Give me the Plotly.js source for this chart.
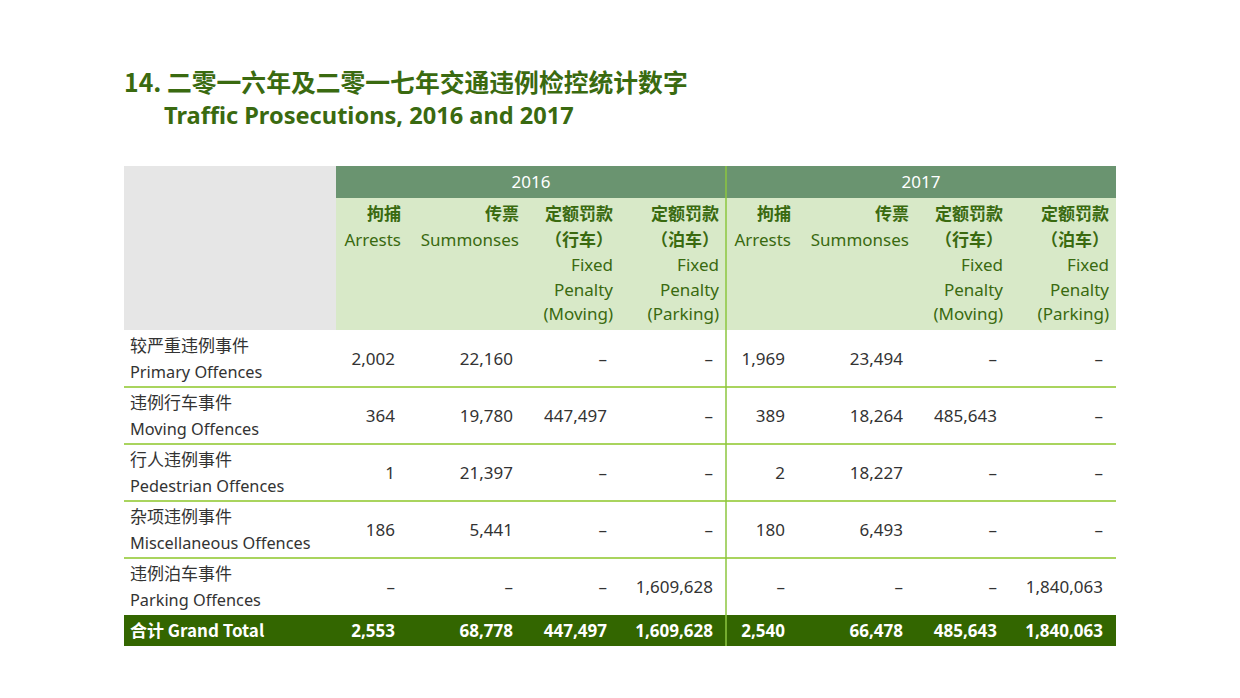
<!DOCTYPE html>
<html>
<head>
<meta charset="utf-8">
<script src="https://cdn.plot.ly/plotly-3.0.1.min.js"></script>
<style>
  html, body { margin: 0; padding: 0; background: #ffffff; }
  #chart { width: 1240px; height: 698px; }
</style>
</head>
<body>
<div id="chart"></div>
<script>
// table content
const titleZh = '14. 二零一六年及二零一七年交通违例检控统计数字';
const titleEn = 'Traffic Prosecutions, 2016 and 2017';
const years = ['2016', '2017'];
const colHeads = [
    ['拘捕', 'Arrests'],
    ['传票', 'Summonses'],
    ['定额罚款', '（行车）', 'Fixed', 'Penalty', '(Moving)'],
    ['定额罚款', '（泊车）', 'Fixed', 'Penalty', '(Parking)']
];
const rowsZh = ['较严重违例事件', '违例行车事件', '行人违例事件', '杂项违例事件', '违例泊车事件'];
const rowsEn = ['Primary Offences', 'Moving Offences', 'Pedestrian Offences', 'Miscellaneous Offences', 'Parking Offences'];

const arrests2016 = [2002, 364, 1, 186, null];
const summonses2016 = [22160, 19780, 21397, 5441, null];
const moving2016 = [null, 447497, null, null, null];
const parking2016 = [null, null, null, null, 1609628];

const arrests2017 = [1969, 389, 2, 180, null];
const summonses2017 = [23494, 18264, 18227, 6493, null];
const moving2017 = [null, 485643, null, null, null];
const parking2017 = [null, null, null, null, 1840063];

const totalLabel = '合计 Grand Total';
const totals2016 = [2553, 68778, 447497, 1609628];
const totals2017 = [2540, 66478, 485643, 1840063];

// layout geometry (pixel space, axes map 1:1 to pixels)
const W = 1240, H = 698;
const tableLeft = 124, tableRight = 1116, labelRight = 336, yearSplit = 726;
const headTop = 166, yearBottom = 198, headBottom = 330;
const rowH = 57, totalTop = 615, totalBottom = 646;
const headRight = [401, 519, 613, 719, 791, 909, 1003, 1109];
const headLineY = [216, 242, 267, 292, 316];

const fontLatin = '"Noto Sans", "Noto Sans CJK SC", sans-serif';
const fontCJK = '"Noto Sans CJK SC", "Noto Sans", sans-serif';
const darkGreen = '#3a6a10';

const fmt = v => v === null ? '–' : v.toLocaleString('en-US');

var traces = [];
function addText(xs, ys, texts, size, color, family, pos) {
    traces.push({
        x: xs, y: ys, text: texts,
        type: 'scatter', mode: 'text',
        textposition: pos || 'middle left',
        textfont: { size: size, color: color, family: family },
        hoverinfo: 'skip', showlegend: false, cliponaxis: false
    });
}

// title
addText([124], [86], ['<b>' + titleZh + '</b>'], 24.8, darkGreen, fontCJK, 'middle right');
addText([164], [118], ['<b>' + titleEn + '</b>'], 23.6, darkGreen, fontLatin, 'middle right');

// year band
addText([(labelRight + yearSplit) / 2, (yearSplit + tableRight) / 2], [184, 184], years, 17, '#ffffff', fontLatin, 'middle center');

// column headers
for (let c = 0; c < 8; c++) {
    const lines = colHeads[c % 4];
    for (let l = 0; l < lines.length; l++) {
        const isZh = /[\u4e00-\u9fff]/.test(lines[l]);
        addText([headRight[c]], [headLineY[l]], [isZh ? '<b>' + lines[l] + '</b>' : lines[l]], 17, darkGreen, isZh ? fontCJK : fontLatin);
    }
}

// row labels
const rowTops = rowsZh.map((_, i) => headBottom + rowH * i);
addText(rowsZh.map(() => 130), rowTops.map(t => t + 18), rowsZh, 17, '#333333', fontCJK, 'middle right');
addText(rowsEn.map(() => 130), rowTops.map(t => t + 44), rowsEn, 16.3, '#333333', fontLatin, 'middle right');

// body values
const cols = [arrests2016, summonses2016, moving2016, parking2016, arrests2017, summonses2017, moving2017, parking2017];
cols.forEach((col, c) => {
    addText(col.map(() => headRight[c] - 6), rowTops.map(t => t + 31), col.map(fmt), 17, '#333333', fontLatin);
});

// grand total
const totals = totals2016.concat(totals2017);
addText([130], [(totalTop + totalBottom) / 2 + 2], ['<b>' + totalLabel + '</b>'], 17, '#ffffff', fontCJK, 'middle right');
addText(totals.map((_, c) => headRight[c] - 6), totals.map(() => (totalTop + totalBottom) / 2 + 2),
    totals.map(v => '<b>' + fmt(v) + '</b>'), 17, '#ffffff', fontLatin);

// backgrounds and rules
var shapes = [
    { type: 'rect', x0: tableLeft, x1: labelRight, y0: headTop, y1: headBottom, fillcolor: '#e6e6e6' },
    { type: 'rect', x0: labelRight, x1: tableRight, y0: headTop, y1: yearBottom, fillcolor: '#6a9470' },
    { type: 'rect', x0: labelRight, x1: tableRight, y0: yearBottom, y1: headBottom, fillcolor: '#d8e9c8' },
    { type: 'rect', x0: tableLeft, x1: tableRight, y0: totalTop, y1: totalBottom, fillcolor: '#336600' }
];
shapes.forEach(s => { s.xref = 'x'; s.yref = 'y'; s.line = { width: 0 }; s.layer = 'below'; });
for (let i = 1; i < rowsZh.length; i++) {
    shapes.push({ type: 'line', xref: 'x', yref: 'y', x0: tableLeft, x1: tableRight,
        y0: headBottom + rowH * i, y1: headBottom + rowH * i, line: { color: '#a9d45e', width: 2 }, layer: 'below' });
}
shapes.push({ type: 'line', xref: 'x', yref: 'y', x0: yearSplit, x1: yearSplit, y0: headTop, y1: totalBottom,
    line: { color: '#8cc63f', width: 1.5 } });

var layout = {
    width: W, height: H,
    margin: { l: 0, r: 0, t: 0, b: 0 },
    paper_bgcolor: '#ffffff', plot_bgcolor: '#ffffff',
    xaxis: { range: [0, W], visible: false, fixedrange: true },
    yaxis: { range: [H, 0], visible: false, fixedrange: true },
    shapes: shapes,
    showlegend: false
};

Plotly.newPlot('chart', traces, layout, { displayModeBar: false, staticPlot: true });
</script>
</body>
</html>
